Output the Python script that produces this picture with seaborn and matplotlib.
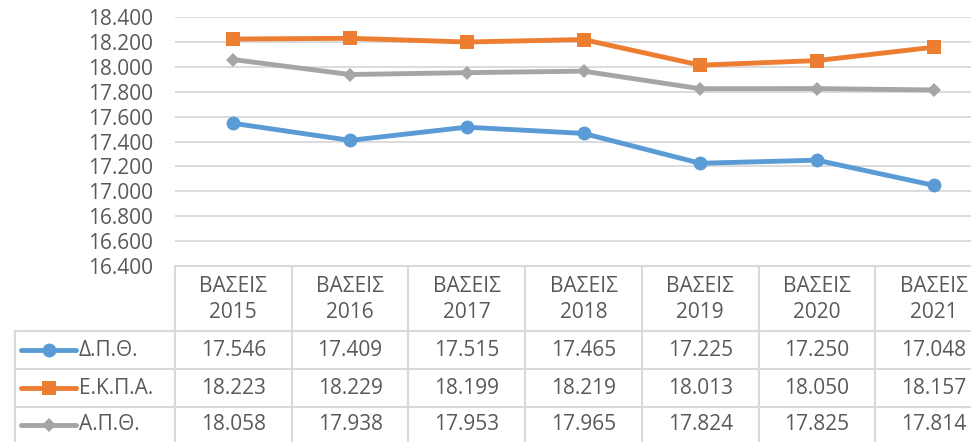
import matplotlib
matplotlib.use("Agg")
import matplotlib.pyplot as plt
import seaborn as sns
import pandas as pd
from matplotlib.lines import Line2D
from matplotlib.transforms import blended_transform_factory

categories = ["ΒΑΣΕΙΣ\n2015", "ΒΑΣΕΙΣ\n2016", "ΒΑΣΕΙΣ\n2017", "ΒΑΣΕΙΣ\n2018",
              "ΒΑΣΕΙΣ\n2019", "ΒΑΣΕΙΣ\n2020", "ΒΑΣΕΙΣ\n2021"]
series_names = ["Δ.Π.Θ.", "Ε.Κ.Π.Α.", "Α.Π.Θ."]
dpth = [17.546, 17.409, 17.515, 17.465, 17.225, 17.250, 17.048]
ekpa = [18.223, 18.229, 18.199, 18.219, 18.013, 18.050, 18.157]
apth = [18.058, 17.938, 17.953, 17.965, 17.824, 17.825, 17.814]
yticks = [16.4, 16.6, 16.8, 17.0, 17.2, 17.4, 17.6, 17.8, 18.0, 18.2, 18.4]

colors = {"Δ.Π.Θ.": "#5B9BD5", "Ε.Κ.Π.Α.": "#ED7D31", "Α.Π.Θ.": "#A5A5A5"}
markers = {"Δ.Π.Θ.": "o", "Ε.Κ.Π.Α.": "s", "Α.Π.Θ.": "D"}
msizes = {"Δ.Π.Θ.": 10, "Ε.Κ.Π.Α.": 9.5, "Α.Π.Θ.": 7.5}

sns.set_style("white")
plt.rcParams["font.family"] = ["Open Sans", "DejaVu Sans"]
TXT = "#595959"
GRID = "#D9D9D9"
FS = 15

W, H = 971, 442
fig = plt.figure(figsize=(W / 100, H / 100), dpi=100)

def fx(px):
    return px / W

def fy(py):
    return 1 - py / H

left_px, right_px, top_px, bot_px = 175, 992, 17, 266
ax = fig.add_axes([fx(left_px), fy(bot_px), fx(right_px - left_px), (bot_px - top_px) / H])

rows = []
for name, vals in zip(series_names, [dpth, ekpa, apth]):
    for i, v in enumerate(vals):
        rows.append({"x": i, "y": v, "series": name})
df = pd.DataFrame(rows)

for name in series_names:
    sub = df[df["series"] == name]
    sns.lineplot(data=sub, x="x", y="y", ax=ax, color=colors[name], marker=markers[name],
                 markersize=msizes[name], markeredgewidth=0, linewidth=3.5, legend=False,
                 zorder=3)

ax.set_xlim(-0.5, len(categories) - 0.5)
ax.set_ylim(16.4, 18.4)
ax.set_yticks(yticks)
ax.set_yticklabels([f"{t:.3f}" for t in yticks], color=TXT, fontsize=FS)
ax.tick_params(axis="y", length=0, pad=16)
ax.set_xticks([])
ax.set_xlabel("")
ax.set_ylabel("")
ax.grid(axis="y", color=GRID, linewidth=1.3)
for s in ax.spines.values():
    s.set_visible(False)

# Data table
bt = blended_transform_factory(ax.transData, fig.transFigure)
lw = 1.5
n = len(categories)
hdr_bot, r1, r2 = 331, 369, 407
fig.add_artist(Line2D([-0.5, n - 0.5], [fy(bot_px)] * 2, transform=bt, color=GRID, lw=lw))
for i in range(n + 1):
    fig.add_artist(Line2D([i - 0.5, i - 0.5], [fy(bot_px), fy(H)], transform=bt, color=GRID, lw=lw))
fig.add_artist(Line2D([fx(15), fx(15)], [fy(hdr_bot), fy(H)], color=GRID, lw=lw))
for yy in [hdr_bot, r1, r2]:
    fig.add_artist(Line2D([fx(15), fx(left_px)], [fy(yy)] * 2, color=GRID, lw=lw))
    fig.add_artist(Line2D([-0.5, n - 0.5], [fy(yy)] * 2, transform=bt, color=GRID, lw=lw))

for i, c in enumerate(categories):
    fig.text(i, fy((bot_px + hdr_bot) / 2 + 1), c, transform=bt, ha="center", va="center",
             color=TXT, fontsize=FS, linespacing=1.35)

row_centers = [(hdr_bot + r1) / 2, (r1 + r2) / 2, (r2 + 442) / 2]
for name, vals, yc in zip(series_names, [dpth, ekpa, apth], row_centers):
    for i, v in enumerate(vals):
        fig.text(i, fy(yc), f"{v:.3f}", transform=bt, ha="center", va="center",
                 color=TXT, fontsize=FS)
    fig.add_artist(Line2D([fx(21), fx(76)], [fy(yc)] * 2, color=colors[name], lw=3.5,
                          solid_capstyle="round"))
    fig.add_artist(Line2D([fx(48.5)], [fy(yc)], color=colors[name], marker=markers[name],
                          markersize=msizes[name], markeredgewidth=0, lw=0))
    fig.text(fx(79), fy(yc), name, ha="left", va="center", color=TXT, fontsize=FS)

fig.savefig("out.png", dpi=100)
